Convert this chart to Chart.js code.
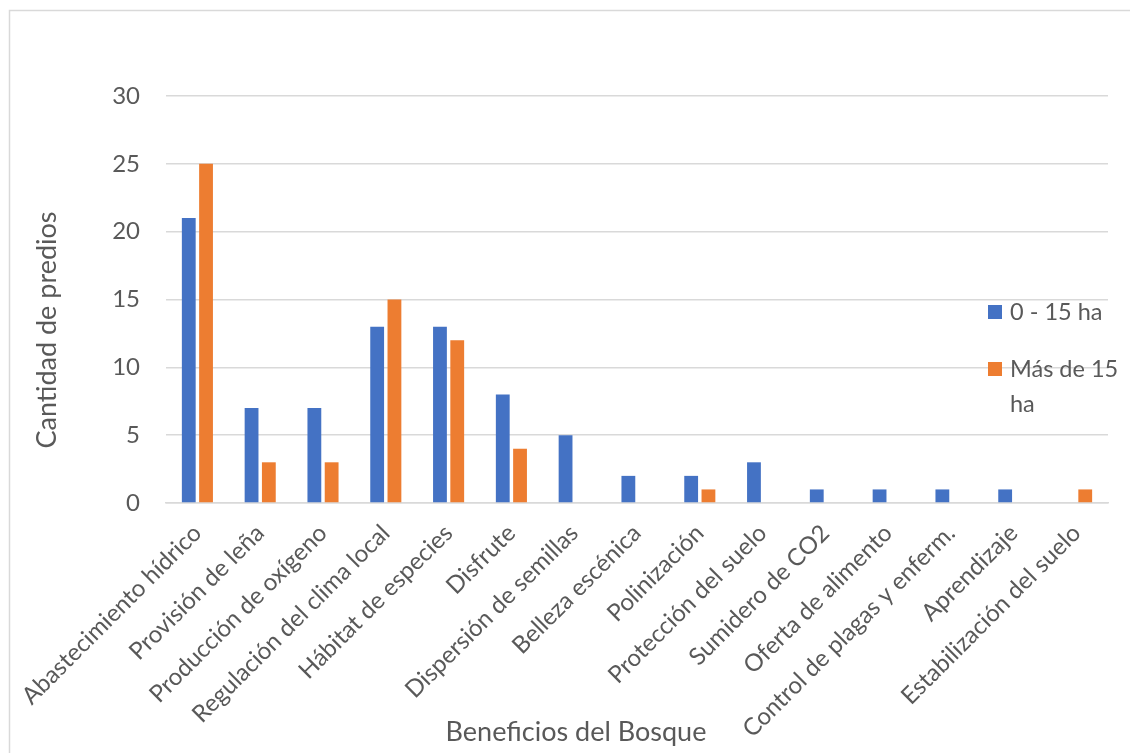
<!DOCTYPE html>
<html>
<head>
<meta charset="utf-8">
<script src="https://cdn.jsdelivr.net/npm/chart.js@4"></script>
<style>
  body { margin: 0; background: #fff; }
  #wrap { position: relative; width: 1130px; height: 753px; }
  #leyenda { position: absolute; left: 988px; top: 294px; font-family: Lato, "Open Sans", sans-serif; font-size: 23.5px; color: #595959; }
  .item { position: relative; padding-left: 22px; line-height: 35px; width: 125px; margin-bottom: 22px; }
  .caja { position: absolute; left: 0; top: 11px; width: 14px; height: 14px; }
</style>
</head>
<body>
<div id="wrap">
  <canvas id="grafico" width="1130" height="753"></canvas>
  <div id="leyenda"></div>
</div>
<script>
// datos
const beneficios = [
  "Abastecimiento hídrico", "Provisión de leña", "Producción de oxígeno",
  "Regulación del clima local", "Hábitat de especies", "Disfrute",
  "Dispersión de semillas", "Belleza escénica", "Polinización",
  "Protección del suelo", "Sumidero de CO2", "Oferta de alimento",
  "Control de plagas y enferm.", "Aprendizaje", "Estabilización del suelo"
];
const predios0a15 = [21, 7, 7, 13, 13, 8, 5, 2, 2, 3, 1, 1, 1, 1, 0];
const prediosMas15 = [25, 3, 3, 15, 12, 4, 0, 0, 1, 0, 0, 0, 0, 0, 1];
const series = ["0 - 15 ha", "Más de 15 ha"];
const colores = ["#4472C4", "#ED7D31"];

const gris = "#595959";
const fuente = "Lato, 'Open Sans', sans-serif";

// marco y titulos de ejes
const extras = {
  id: "extras",
  beforeDraw(chart) {
    const ctx = chart.ctx;
    ctx.save();
    ctx.strokeStyle = "#d9d9d9";
    ctx.lineWidth = 1.5;
    ctx.strokeRect(9.5, 10.5, 1300, 900);
    ctx.restore();
  },
  afterDraw(chart) {
    const ctx = chart.ctx;
    ctx.save();
    ctx.fillStyle = gris;
    ctx.font = "27px " + fuente;
    ctx.textAlign = "center";
    ctx.textBaseline = "middle";
    ctx.fillText("Beneficios del Bosque", 576, 732);
    ctx.translate(47, 330);
    ctx.rotate(-Math.PI / 2);
    ctx.fillText("Cantidad de predios", 0, 0);
    ctx.restore();
  }
};

const grafico = new Chart(document.getElementById("grafico"), {
  type: "bar",
  data: {
    labels: beneficios,
    datasets: [
      { label: series[0], data: predios0a15, backgroundColor: colores[0] },
      { label: series[1], data: prediosMas15, backgroundColor: colores[1] }
    ]
  },
  options: {
    responsive: false,
    animation: false,
    categoryPercentage: 0.55,
    barPercentage: 0.8,
    layout: { padding: { top: 96, right: 22, left: 0, bottom: 0 } },
    plugins: { legend: { display: false }, tooltip: { enabled: false } },
    scales: {
      x: {
        afterFit(scale) { scale.height = 250; },
        grid: { display: false },
        border: { color: "#d9d9d9", width: 1.5 },
        ticks: { color: gris, font: { family: fuente, size: 24 }, minRotation: 45, maxRotation: 45, autoSkip: false, padding: 8 }
      },
      y: {
        min: 0, max: 30,
        afterFit(scale) { scale.width = 166; },
        grid: { color: "#d9d9d9", lineWidth: 1.5, drawTicks: false },
        border: { display: false },
        ticks: { stepSize: 5, color: gris, font: { family: fuente, size: 24 }, padding: 26 }
      }
    }
  },
  plugins: [extras]
});

// leyenda a la derecha
const leyenda = document.getElementById("leyenda");
grafico.data.datasets.forEach(ds => {
  const item = document.createElement("div");
  item.className = "item";
  item.innerHTML = `<span class="caja" style="background:${ds.backgroundColor}"></span>${ds.label}`;
  leyenda.appendChild(item);
});
</script>
</body>
</html>
